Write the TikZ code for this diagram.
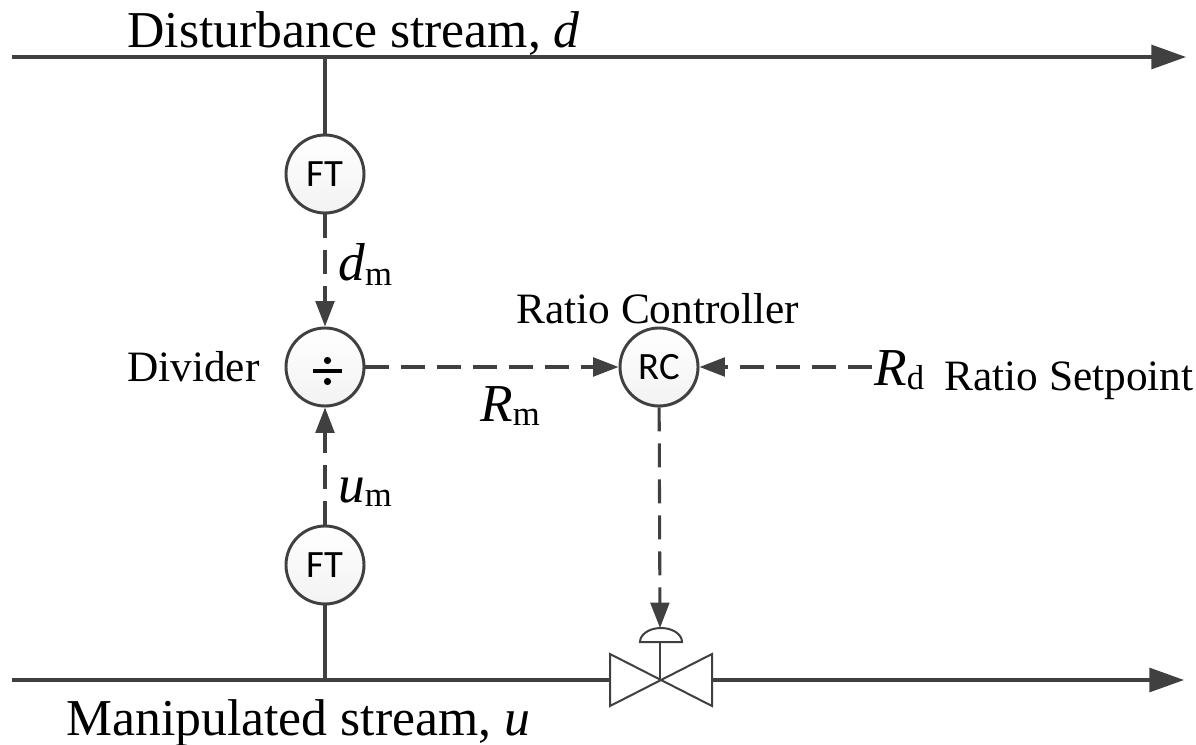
\documentclass[tikz,border=0pt]{standalone}
\usepackage{fontspec}
\setmainfont{Liberation Serif}
\newfontfamily\lblfont{Carlito}
\usetikzlibrary{arrows.meta,shadows}
\definecolor{ln}{HTML}{404040}
\newcommand{\subtxt}[1]{\raisebox{-3.5pt}{\fontsize{26}{26}\selectfont #1}}
\tikzset{
  x=0.75pt,y=-0.75pt,
  inst/.style={circle,draw=ln,line width=2.2pt,minimum size=58.5pt,inner sep=0pt,
    top color=white,bottom color=black!5,font=\lblfont\fontsize{29}{29}\selectfont,text=black,
    drop shadow={shadow xshift=1pt,shadow yshift=-1pt,opacity=.2,fill=black}},
  pipe/.style={draw=ln,line width=2.3pt},
  pipearrow/.style={pipe,-{Triangle[length=26pt,width=18pt,fill=ln]}},
  sig/.style={draw=ln,line width=2.3pt,dash pattern=on 18pt off 9pt,-{Triangle[length=19pt,width=14pt,fill=ln]}},
  big/.style={inner sep=0pt,font=\fontsize{38.8}{38.8}\selectfont,anchor=base west},
  mid/.style={inner sep=0pt,font=\fontsize{32.5}{32.5}\selectfont,anchor=base west},
  sym/.style={inner sep=0pt,font=\fontsize{40}{40}\selectfont,anchor=base west},
  valve/.style={draw=ln,line width=1.5pt,fill=white,line join=miter},
}
\begin{document}
\begin{tikzpicture}
\useasboundingbox (0,0) rectangle (1196,745);
\fill[white] (0,0) rectangle (1196,745);
% named points
\coordinate (dl) at (12,57);
\coordinate (dr) at (1186,57);
\coordinate (ml) at (12,680);
\coordinate (mr) at (1184,680);
\coordinate (dt) at (325,57);
\coordinate (mt) at (325,680);
\coordinate (vc) at (660,680);
\coordinate (vl) at (610,680);
\coordinate (vr) at (712,680);
\coordinate (rd) at (872,367);
\coordinate (act) at (660,628);
\coordinate (actb) at (660,642);
% instruments
\node[inst] (ft1) at (325,174) {FT};
\node[inst] (div) at (325,367) {};
\node[inst] (rc) at (659,367) {RC};
\node[inst] (ft2) at (325,565) {FT};
% divide sign
\draw[black,line width=2.5pt] (313,371) -- (342,371);
\fill[black] (327.5,360.5) circle (3.6);
\fill[black] (327.5,381.5) circle (3.6);
% streams
\draw[pipearrow] (dl) -- (dr);
\draw[pipe] (ml) -- (vl);
\draw[pipearrow] (vr) -- (mr);
\draw[pipe] (dt) -- (ft1);
\draw[pipe] (mt) -- (ft2);
% signals
\draw[sig] (ft1) -- (div);
\draw[sig] (ft2) -- (div);
\draw[sig] (div) -- (rc);
\draw[sig] (rd) -- (rc);
\draw[sig] (rc) -- (act);
% valve
\draw[valve] (610,654) -- (712,706) -- (712,654) -- (610,706) -- cycle;
\draw[valve] (vc) -- (actb);
\draw[valve] (640,642) arc[start angle=180,end angle=360,x radius=21,y radius=14] -- cycle;
% labels
\node[big] (t1) at (127,48) {Disturbance stream, \textit{d}};
\node[big] (t2) at (66,735) {Manipulated stream, \textit{u}};
\node[mid] (t3) at (127,382) {Divider};
\node[mid] (t4) at (516,324) {Ratio Controller};
\node[mid] (t5) at (944,390) {Ratio Setpoint};
\node[sym] (l1) at (338,281) {\textit{d}\subtxt{m}};
\node[sym] (l2) at (338,502) {\textit{u}\subtxt{m}};
\node[sym] (l3) at (480,421) {\textit{R}\subtxt{m}};
\node[sym] (l4) at (874,385) {\textit{R}\subtxt{d}};
\end{tikzpicture}
\end{document}
